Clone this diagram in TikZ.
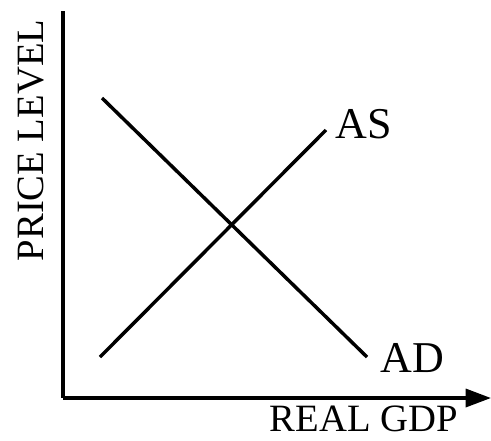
\documentclass[tikz,border=0pt]{standalone}
\usepackage{fontspec}
\setmainfont{Liberation Serif}
\usepackage{tikz}
\usetikzlibrary{arrows.meta,positioning}
\definecolor{asad@ink}{RGB}{0,0,0}
\tikzset{
  asad/.style={
    x=0.75pt, y=-0.75pt,
    line width=2.6pt,
    every node/.style={inner sep=0pt, text=asad@ink}
  },
  axisline/.style={draw=asad@ink, line width=2.6pt},
  curveline/.style={draw=asad@ink, line width=2.6pt},
  axislabel/.style={font=\fontsize{29}{32}\selectfont, anchor=base west},
  curvelabel/.style={font=\fontsize{33}{36}\selectfont, anchor=base west}
}

\begin{document}
\begin{tikzpicture}[asad]
\useasboundingbox (0,0) rectangle (491,440);

% Axes
\coordinate (top) at (63, 11);
\coordinate (origin) at (63, 398);
\coordinate (right) at (491, 398);
\draw[axisline] (top) -- (origin);
\draw[axisline, -{Triangle[length=19pt,width=13.5pt]}] (origin) -- (right);

% Axis labels
\node[axislabel] (xlab) at (268, 431) {REAL GDP};
\node[axislabel, rotate=90] (ylab) at (43, 263) {PRICE LEVEL};

% Supply and demand curves
\coordinate (as0) at (100, 357);
\coordinate (as1) at (326, 130);
\coordinate (ad0) at (102, 98);
\coordinate (ad1) at (367, 357);
\draw[curveline] (as0) -- (as1);
\draw[curveline] (ad0) -- (ad1);

% Curve labels
\node[curvelabel] (aslab) at (334, 138) {AS};
\node[curvelabel] (adlab) at (379, 372) {AD};

\end{tikzpicture}
\end{document}
